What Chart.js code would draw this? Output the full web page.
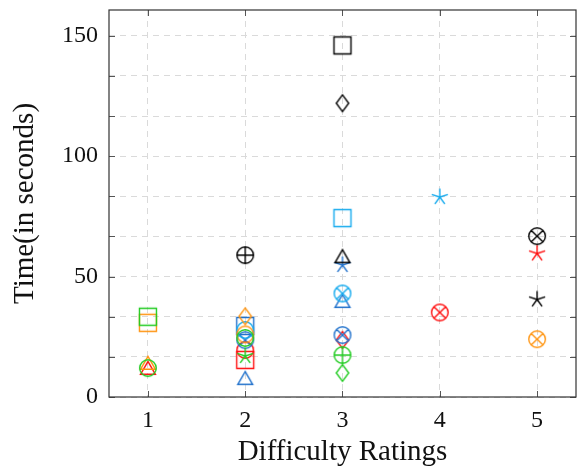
<!DOCTYPE html>
<html>
<head>
<meta charset="utf-8">
<script src="https://cdn.jsdelivr.net/npm/chart.js@4"></script>
<style>
  html, body { margin: 0; padding: 0; background: #fff; overflow: hidden; }
  #graf { display: block; }
</style>
</head>
<body>
<canvas id="graf" width="577" height="470"></canvas>
<script>
// difficulty ratings on x, time in seconds on y
const ratings = [1, 2, 3, 4, 5];
const yTickValues = [0, 50 / 3, 100 / 3, 50, 200 / 3, 250 / 3, 100, 350 / 3, 400 / 3, 150];
const yTickLabels = ['0', '', '', '50', '', '', '100', '', '', '150'];

const greenX = [1, 1, 2, 2, 3, 3];
const greenY = [33.3, 12, 24.5, 17, 17.4, 10];
const greenMarks = ['square', 'circle', 'circle', 'star', 'oplus', 'diamond'];

const orangeX = [1, 1, 2, 2, 5];
const orangeY = [30.8, 13.3, 33.5, 26, 24];
const orangeMarks = ['square', 'triangle', 'diamond', 'circle', 'otimes'];

const redX = [1, 2, 2, 3, 4, 5];
const redY = [11.2, 19.5, 15.4, 23.7, 35.1, 59.6];
const redMarks = ['triangle', 'circle', 'square', 'diamond', 'otimes', 'star'];

const blackX = [2, 3, 3, 3, 5, 5];
const blackY = [58.9, 146, 122, 57.6, 66.8, 40.5];
const blackMarks = ['oplus', 'square', 'diamond', 'triangle', 'otimes', 'star'];

const cyanX = [2, 3, 3, 4];
const cyanY = [27.8, 74.3, 43, 83];
const cyanMarks = ['circle', 'square', 'otimes', 'star'];

const blueX = [2, 2, 2, 3, 3, 3];
const blueY = [29.5, 23.6, 7, 54.8, 39, 25.7];
const blueMarks = ['square', 'otimes', 'triangle', 'star', 'triangle', 'otimes'];

Chart.defaults.font.family = "'Liberation Serif', serif";
Chart.defaults.color = '#111';

// small canvases used as point styles
function marker(shape, color) {
  const c = document.createElement('canvas');
  c.width = 24;
  c.height = 24;
  const g = c.getContext('2d');
  g.translate(12, 12);
  g.strokeStyle = color;
  g.lineWidth = 1.4;
  g.beginPath();
  const r = 8.3;
  if (shape === 'square') {
    g.rect(-8.5, -8.5, 17, 17);
  } else if (shape === 'circle') {
    g.arc(0, 0, r, 0, Math.PI * 2);
  } else if (shape === 'triangle') {
    const t = 8.6;
    g.moveTo(0, -t);
    g.lineTo(t * 0.866, t * 0.5);
    g.lineTo(-t * 0.866, t * 0.5);
    g.closePath();
  } else if (shape === 'diamond') {
    g.moveTo(0, -8.3);
    g.lineTo(6.2, 0);
    g.lineTo(0, 8.3);
    g.lineTo(-6.2, 0);
    g.closePath();
  } else if (shape === 'star') {
    for (let i = 0; i < 5; i++) {
      const a = -Math.PI / 2 + i * 2 * Math.PI / 5;
      g.moveTo(0, 0);
      g.lineTo(Math.cos(a) * 8.5, Math.sin(a) * 8.5);
    }
  } else if (shape === 'oplus') {
    g.arc(0, 0, r, 0, Math.PI * 2);
    g.moveTo(-r, 0); g.lineTo(r, 0);
    g.moveTo(0, -r); g.lineTo(0, r);
  } else if (shape === 'otimes') {
    const d = r * Math.SQRT1_2;
    g.arc(0, 0, r, 0, Math.PI * 2);
    g.moveTo(-d, -d); g.lineTo(d, d);
    g.moveTo(d, -d); g.lineTo(-d, d);
  }
  g.stroke();
  return c;
}

function series(xs, ys, marks, color) {
  const styles = marks.map(m => marker(m, color));
  return {
    data: xs.map((x, i) => ({ x: x, y: ys[i] })),
    showLine: false,
    pointStyle: (c) => styles[c.dataIndex],
    pointRadius: 8,
    borderColor: color,
    backgroundColor: color,
  };
}

function noPadding(scale) {
  scale.paddingLeft = 0;
  scale.paddingRight = 0;
  scale.paddingTop = 0;
  scale.paddingBottom = 0;
}

const frame = {
  id: 'frame',
  afterDraw(chart) {
    const { ctx, chartArea: a, scales } = chart;
    ctx.save();
    ctx.strokeStyle = '#555';
    ctx.lineWidth = 1;
    ctx.beginPath();
    yTickValues.forEach(v => {
      const p = Math.round(scales.y.getPixelForValue(v)) + 0.5;
      ctx.moveTo(a.left, p); ctx.lineTo(a.left + 6, p);
      ctx.moveTo(a.right, p); ctx.lineTo(a.right - 6, p);
    });
    ratings.forEach(v => {
      const p = Math.round(scales.x.getPixelForValue(v)) + 0.5;
      ctx.moveTo(p, a.bottom); ctx.lineTo(p, a.bottom - 6);
      ctx.moveTo(p, a.top); ctx.lineTo(p, a.top + 6);
    });
    ctx.stroke();
    ctx.strokeStyle = '#333';
    ctx.lineWidth = 1.2;
    ctx.strokeRect(a.left, a.top, a.right - a.left, a.bottom - a.top);
    ctx.restore();
  }
};

const ctx = document.getElementById('graf').getContext('2d');

const config = {
  type: 'scatter',
  data: {
    datasets: [
      series(greenX, greenY, greenMarks, '#22cc22'),
      series(orangeX, orangeY, orangeMarks, '#ff9410'),
      series(blackX, blackY, blackMarks, '#000000'),
      series(cyanX, cyanY, cyanMarks, '#14aaee'),
      series(blueX, blueY, blueMarks, '#2272cc'),
      series(redX, redY, redMarks, '#ff0f0f'),
    ],
  },
  options: {
    responsive: false,
    animation: false,
    layout: {
      autoPadding: false,
      padding: { top: 10, right: 1, left: 0, bottom: 0 },
    },
    plugins: {
      legend: { display: false },
      tooltip: { enabled: false },
    },
    scales: {
      x: {
        type: 'linear',
        min: 0.6,
        max: 5.4,
        afterBuildTicks: (scale) => {
          scale.ticks = ratings.map(v => ({ value: v }));
        },
        afterFit: (scale) => {
          scale.height = 73;
          noPadding(scale);
        },
        grid: { color: '#dadada', drawTicks: false },
        border: { display: false, dash: [6, 5] },
        ticks: { font: { size: 24 }, padding: 9, color: '#111' },
        title: {
          display: true,
          text: 'Difficulty Ratings',
          font: { size: 29 },
          color: '#111',
          padding: { top: 0, bottom: 0 },
        },
      },
      y: {
        min: 0,
        max: 160.7,
        afterBuildTicks: (scale) => {
          scale.ticks = yTickValues.map(v => ({ value: v }));
        },
        afterFit: (scale) => {
          scale.width = 109;
          noPadding(scale);
        },
        grid: { color: '#dadada', drawTicks: false },
        border: { display: false, dash: [6, 5] },
        ticks: {
          font: { size: 24 },
          padding: 11,
          color: '#111',
          callback: (value, index) => yTickLabels[index],
        },
        title: {
          display: true,
          text: 'Time(in seconds)',
          font: { size: 29 },
          color: '#111',
          padding: { top: 8, bottom: 0 },
        },
      },
    },
  },
  plugins: [frame],
};

const myChart = new Chart(ctx, config);
</script>
</body>
</html>
